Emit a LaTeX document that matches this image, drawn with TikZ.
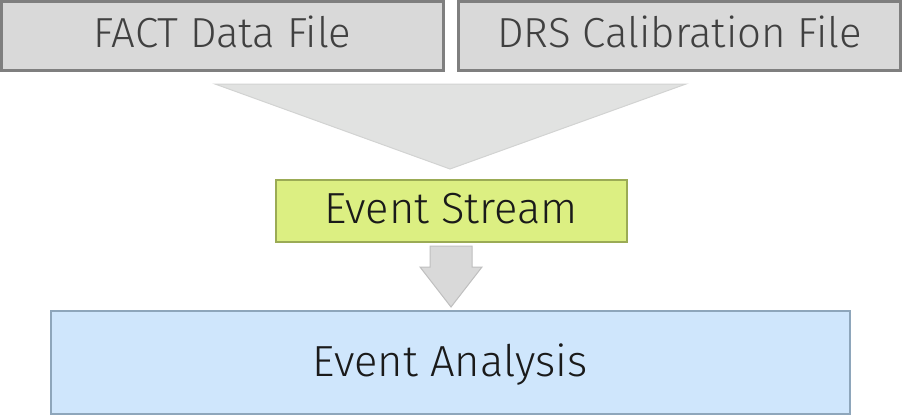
\documentclass[tikz,border=0pt]{standalone}
\usepackage{fontspec}
\usetikzlibrary{calc}
\setmainfont{Fira Sans Light}
\definecolor{filegray}{HTML}{D9D9D9}
\definecolor{fileborder}{HTML}{7F7F7F}
\definecolor{filetext}{HTML}{404040}
\definecolor{funnelfill}{HTML}{E1E2E1}
\definecolor{funnelborder}{HTML}{D2D3D2}
\definecolor{streamfill}{HTML}{DCEF82}
\definecolor{streamborder}{HTML}{9BAB55}
\definecolor{arrowfill}{HTML}{D9D9D9}
\definecolor{arrowborder}{HTML}{BFBFBF}
\definecolor{analysisfill}{HTML}{CFE6FC}
\definecolor{analysisborder}{HTML}{8EA6BB}
\definecolor{darktext}{HTML}{1A1A1A}
\begin{document}
\begin{tikzpicture}[x=1pt,y=-1pt,
  filebox/.style={draw=fileborder,line width=2.5pt,fill=filegray,minimum width=442pt,minimum height=69pt,inner sep=0pt,font=\fontsize{42}{44}\selectfont,text=filetext,text height=29pt,text depth=7pt},
  streambox/.style={draw=streamborder,line width=2pt,fill=streamfill,minimum width=351pt,minimum height=62pt,inner sep=0pt,font=\fontsize{43.5}{45}\selectfont,text=darktext,text height=29pt,text depth=4pt},
  analysisbox/.style={draw=analysisborder,line width=2pt,fill=analysisfill,minimum width=799pt,minimum height=103pt,inner sep=0pt,font=\fontsize{43.5}{45}\selectfont,text=darktext,text height=31pt,text depth=3pt}]
\useasboundingbox (0,0) rectangle (902,416);
\node[filebox] (fact) at (222.5,36) {FACT Data File};
\node[filebox] (drs) at (679.5,36) {DRS Calibration File};
\node[streambox] (stream) at (451,210.5) {Event Stream};
\node[analysisbox] (analysis) at (450,362) {Event Analysis};
% funnel
\coordinate (fl) at (215,84);
\coordinate (fr) at (686,84);
\coordinate (ftip) at (450,169);
\draw[draw=funnelborder,line width=1pt,fill=funnelfill] (fl) -- (fr) -- (ftip) -- cycle;
% down arrow
\coordinate (atop) at (451,246);
\coordinate (atip) at (451,307);
\draw[draw=arrowborder,line width=1pt,fill=arrowfill]
  ($(atop)+(-21,0)$) -- ($(atop)+(21,0)$) -- ($(atop)+(21,21)$)
  -- ($(atop)+(31,21)$) -- (atip) -- ($(atop)+(-31,21)$)
  -- ($(atop)+(-21,21)$) -- cycle;
\end{tikzpicture}
\end{document}
